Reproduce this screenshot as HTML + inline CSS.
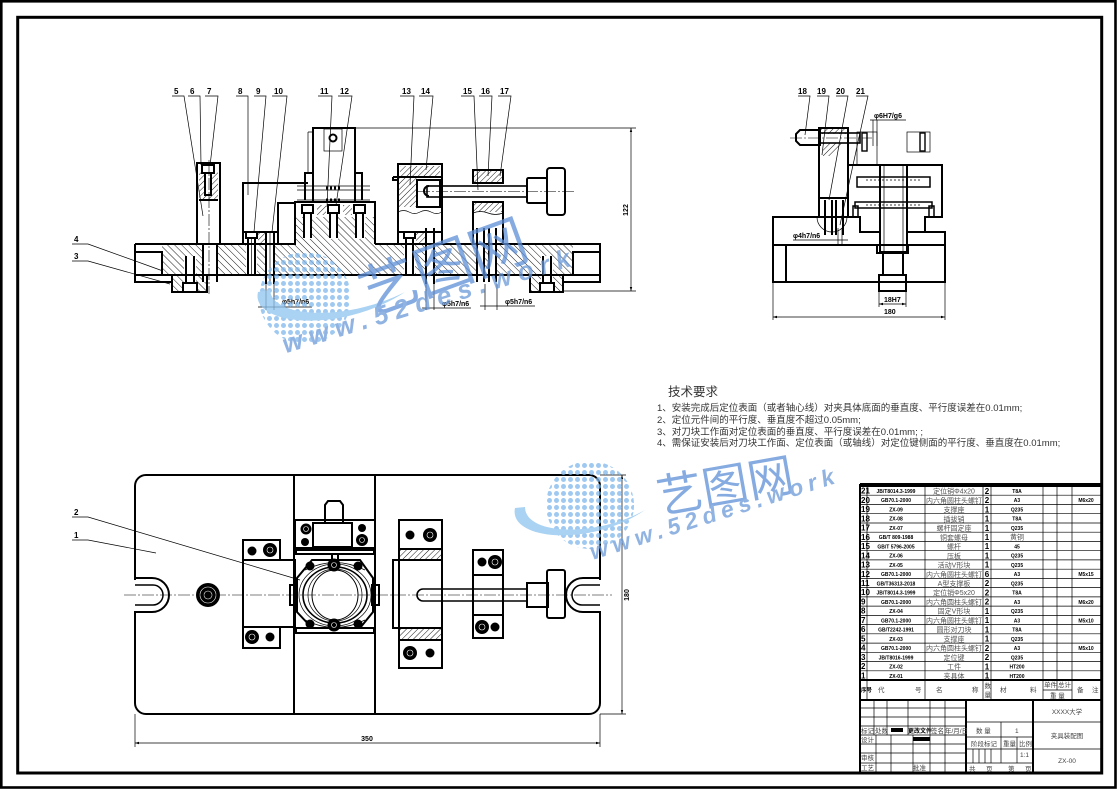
<!DOCTYPE html>
<html><head><meta charset="utf-8"><style>
html,body{margin:0;padding:0;background:#fff;}
svg{display:block;}
.k{fill:none;stroke:#000;stroke-width:2;}
.m{fill:none;stroke:#000;stroke-width:1.3;}
.t{fill:none;stroke:#000;stroke-width:0.7;}
.cl{fill:none;stroke:#000;stroke-width:0.6;stroke-dasharray:12 2 2 2;}
text{font-family:"Liberation Sans","Noto Sans CJK SC",sans-serif;}
.lb{font-size:8px;font-weight:bold;}
.dm{font-size:7px;font-weight:bold;}
.sn{font-size:8px;font-weight:bold;}
.cd{font-size:5px;font-weight:bold;text-anchor:middle;}
.nm{font-size:7px;fill:#555;text-anchor:middle;}
.qt{font-size:8px;font-weight:bold;text-anchor:middle;}
.tb{font-size:6.5px;fill:#444;}
.tr{font-size:9.5px;fill:#333;}
</style></head><body>
<svg width="1117" height="791" viewBox="0 0 1117 791" xmlns="http://www.w3.org/2000/svg">
<defs>
<pattern id="hA" width="5" height="5" patternUnits="userSpaceOnUse" patternTransform="rotate(-45)"><line x1="0" y1="0" x2="0" y2="5" stroke="#000" stroke-width="0.9"/></pattern>
<pattern id="hB" width="4" height="4" patternUnits="userSpaceOnUse" patternTransform="rotate(45)"><line x1="0" y1="0" x2="0" y2="4" stroke="#000" stroke-width="0.9"/></pattern>
<pattern id="dots" width="7" height="7" patternUnits="userSpaceOnUse"><circle cx="3.5" cy="3.5" r="2.5" fill="#7fb8ec"/></pattern>
<marker id="ar" viewBox="0 0 10 10" refX="10" refY="5" markerWidth="6" markerHeight="6" orient="auto-start-reverse"><path d="M0,2 L10,5 L0,8 Z" fill="#000"/></marker>
</defs>

<!-- FRAME -->
<rect x="1.3" y="1.3" width="1114.2" height="786.2" fill="none" stroke="#000" stroke-width="2.6"/>
<rect x="17.7" y="17.3" width="1084" height="755.7" fill="none" stroke="#000" stroke-width="3"/>

<!-- ============ FRONT VIEW ============ -->
<rect x="162" y="244" width="411" height="31" fill="url(#hA)"/>
<rect x="295" y="217" width="80" height="27" fill="url(#hA)"/>
<rect x="172" y="275" width="35" height="17" fill="url(#hA)"/>
<rect x="530" y="275" width="33" height="17" fill="url(#hA)"/>
<g fill="#fff">
<rect x="203" y="244" width="14" height="38"/>
<rect x="184" y="256" width="12" height="36"/>
<rect x="246" y="232" width="11" height="45"/>
<rect x="265" y="232" width="10" height="52"/>
<rect x="278" y="203" width="17" height="41"/>
<rect x="303" y="215" width="9" height="24"/>
<rect x="329" y="215" width="9" height="24"/>
<rect x="356" y="215" width="9" height="24"/>
<rect x="404" y="232" width="11" height="45"/>
<rect x="425" y="228" width="10" height="56"/>
<rect x="476" y="228" width="9" height="56"/>
<rect x="488" y="228" width="9" height="56"/>
<rect x="541" y="256" width="12" height="36"/>
</g>
<g class="k">
<path d="M135,244 H295"/>
<path d="M375,244 H600 V275 H135 V244"/>
<path d="M135,252 H162 V275 M600,252 H573 V275"/>
<path d="M135,275 V282 H172 M600,275 V282 H563"/>
<rect x="172" y="275" width="35" height="17"/>
<rect x="530" y="275" width="33" height="17"/>
<rect x="183" y="283" width="14" height="9"/>
<path d="M186,256 V283 M194,256 V283"/>
<rect x="540" y="283" width="14" height="9"/>
<path d="M543,256 V283 M551,256 V283"/>
</g>
<!-- column 5 -->
<rect x="199" y="172" width="19" height="28" fill="url(#hB)"/>
<rect x="205" y="173" width="6" height="22" fill="#fff"/>
<g class="k">
<rect x="197" y="163" width="23" height="81"/>
<rect x="202" y="165" width="12" height="8"/>
<path d="M205,173 V195 H211 V173 M203,244 V282 M217,244 V282 M199,200 H218"/>
</g>
<line x1="209" y1="160" x2="209" y2="294" class="cl"/>
<!-- block 8 / 9 / 10 -->
<rect x="258" y="232" width="7" height="12" fill="url(#hB)"/>
<g class="k">
<path d="M308,183 H243 V232 H278"/>
<rect x="278" y="203" width="17" height="41"/>
<rect x="246" y="232" width="11" height="6"/>
<path d="M248,238 V275 M255,238 V275 M243,232 V244"/>
<path d="M266,232 V284 M274,232 V284"/>
</g>
<path d="M270,232 V284 M251.5,238 V275" class="t"/>
<!-- central body -->
<rect x="295" y="202" width="80" height="15" fill="#fff"/>
<rect x="317" y="205" width="9" height="10" fill="url(#hB)"/>
<rect x="343" y="205" width="9" height="10" fill="url(#hB)"/>
<g class="k">
<path d="M295,244 V202 H375 V244"/>
<rect x="302" y="205" width="11" height="8"/>
<rect x="328" y="205" width="11" height="8"/>
<rect x="354" y="205" width="11" height="8"/>
<path d="M304,213 V238 M311,213 V238 M330,213 V238 M337,213 V238 M356,213 V238 M363,213 V238"/>
</g>
<!-- part 11 -->
<g class="k">
<path d="M313,202 V173 H305 V200 M355,202 V173 H362 V200 M313,173 V128 H355 V173"/>
<circle cx="333" cy="138" r="3.5"/>
</g>
<g class="t">
<path d="M297,186 H370 M297,190 H370 M297,200 H370"/>
<rect x="324" y="129" width="18" height="22"/>
<path d="M308,132 H313 M308,132 V173"/>
<path d="M355,128 H636"/>
</g>
<path d="M326,188 H342" stroke="#000" stroke-width="3" stroke-dasharray="2 2"/>
<path d="M326,200 H342" stroke="#000" stroke-width="3" stroke-dasharray="2 2"/>
<!-- part 13/14 -->
<rect x="400" y="166" width="40" height="11" fill="url(#hB)"/>
<path d="M398,177 H417 V207 H398 Z" fill="url(#hB)"/>
<rect x="416" y="232" width="9" height="12" fill="url(#hB)"/>
<g class="k">
<rect x="398" y="164" width="44" height="80"/>
<path d="M393,177 H442 M393,177 V180 H398 M398,232 H442"/>
<rect x="417" y="180" width="23" height="27"/>
<path d="M429,186 A5,5 0 0 0 429,196"/>
<rect x="404" y="232" width="11" height="6"/>
<path d="M406,238 V275 M413,238 V275 M426,228 V284 M434,228 V284"/>
</g>
<path d="M398,212 q5.5,-3 11,0 t11,0 t11,0 t11,0" class="t"/>
<!-- rod, 16, 17, knob -->
<rect x="473" y="170" width="30" height="13" fill="url(#hB)"/>
<rect x="474" y="203" width="28" height="9" fill="url(#hB)"/>
<g class="k">
<rect x="427" y="186" width="100" height="11" stroke-width="1.6"/>
<rect x="473" y="170" width="30" height="13"/>
<rect x="473" y="202" width="30" height="42"/>
<path d="M477,228 V282 M484,228 V282 M489,228 V282 M496,228 V282"/>
<rect x="527" y="178" width="20" height="25" rx="1.5"/>
<rect x="547" y="168" width="18" height="47" rx="3"/>
</g>
<path d="M473,213 q7.5,-3 15,0 t15,0" class="t"/>
<line x1="418" y1="191.5" x2="576" y2="191.5" class="cl"/>
<!-- dims front -->
<g class="t">
<path d="M563,291 H636"/>
<line x1="631" y1="128" x2="631" y2="291" marker-start="url(#ar)" marker-end="url(#ar)"/>
<path d="M266,284 V310 M274,284 V310 M258,307 H312"/>
<path d="M426,284 V310 M434,284 V310 M422,308 H471"/>
<path d="M485,284 V310 M497,284 V310 M480,306 H535"/>
</g>
<text x="628" y="210" class="dm" transform="rotate(-90 628 210)" text-anchor="middle">122</text>
<text x="282" y="304" class="dm">φ5h7/n6</text>
<text x="442" y="306" class="dm">φ5h7/n6</text>
<text x="505" y="304" class="dm">φ5h7/n6</text>
<!-- labels front -->
<g class="lb">
<text x="174" y="94">5</text><text x="190" y="94">6</text><text x="207" y="94">7</text>
<text x="238" y="94">8</text><text x="256" y="94">9</text><text x="274" y="94">10</text>
<text x="320" y="94">11</text><text x="340" y="94">12</text>
<text x="402" y="94">13</text><text x="421" y="94">14</text>
<text x="463" y="94">15</text><text x="481" y="94">16</text><text x="500" y="94">17</text>
<text x="74" y="242">4</text><text x="74" y="259">3</text>
</g>
<g class="t">
<path d="M172,96 H184 L203,216 M188,96 H200 L201,165 M205,96 H218 L210,166"/>
<path d="M236,96 H248 L248,195 M254,96 H266 L254,232 M272,96 H287 L272,232"/>
<path d="M318,96 H332 L327,207 M338,96 H352 L336,205"/>
<path d="M400,96 H414 L410,185 M419,96 H433 L426,170"/>
<path d="M461,96 H474 L478,190 M479,96 H492 L488,176 M498,96 H511 L500,176"/>
<path d="M72,244 H88 L163,271 M72,261 H88 L170,284"/>
</g>

<!-- ============ SIDE VIEW ============ -->
<rect x="821" y="129" width="25" height="5" fill="url(#hB)"/>
<path d="M823,143 H843 Q838,152 830,156 H823 Z" fill="url(#hB)"/>
<g class="k">
<rect x="773" y="245" width="172" height="37"/>
<path d="M786,245 V282"/>
<path d="M773,245 V217 H860 V232 H880 M907,232 H925 V217 H942 V165 H848 V217 M925,232 H945 V245"/>
<rect x="880" y="165" width="27" height="87"/>
<rect x="877" y="245" width="31" height="8"/>
<rect x="883" y="253" width="20" height="22"/>
<rect x="879" y="275" width="27" height="16"/>
<rect x="857" y="177" width="73" height="10" stroke-width="1.5"/>
<rect x="855" y="202" width="77" height="6" stroke-width="1.5"/>
<rect x="853" y="206" width="5" height="11" stroke-width="1.5"/>
<rect x="929" y="206" width="5" height="11" stroke-width="1.5"/>
<rect x="819" y="128" width="29" height="89"/>
<path d="M819,198 H848"/>
<path d="M825,200 V235 M832,200 V235 M836,200 V235 M843,200 V235"/>
<path d="M800,130 H820 V145 H800 L796,141 V134 Z"/>
<rect x="820" y="133" width="40" height="10" stroke-width="1.6"/>
<rect x="862" y="133" width="5" height="18" stroke-width="1.4"/>
<rect x="920" y="133" width="5" height="18" stroke-width="1.4"/>
</g>
<g class="t">
<path d="M884,165 V252 M903,165 V252"/>
<rect x="857" y="132" width="20" height="33"/>
<rect x="907" y="132" width="23" height="20"/>
<path d="M817,217 A15,15 0 0 0 847,217"/>
<path d="M866,180 H920 M866,205 H920" stroke-dasharray="2 2"/>
<path d="M870,120 H906 M873,120 V146 M877,120 V146"/>
<path d="M793,240 H848 M838,228 V246 M842,228 V246"/>
<path d="M879,291 V307 M906,291 V307 M773,282 V320 M945,282 V320"/>
<line x1="879" y1="304" x2="906" y2="304" marker-start="url(#ar)" marker-end="url(#ar)"/>
<line x1="773" y1="317" x2="945" y2="317" marker-start="url(#ar)" marker-end="url(#ar)"/>
<path d="M798,96 H810 L805,135 M817,96 H829 L822,155 M836,96 H848 L829,200 M856,96 H868 L840,225"/>
</g>
<line x1="790" y1="138" x2="872" y2="138" class="cl"/>
<g class="lb"><text x="798" y="94">18</text><text x="817" y="94">19</text><text x="836" y="94">20</text><text x="856" y="94">21</text></g>
<text x="874" y="118" class="dm">φ6H7/g6</text>
<text x="793" y="238" class="dm">φ4h7/n6</text>
<text x="884" y="302" class="dm">18H7</text>
<text x="884" y="314" class="dm">180</text>

<!-- ============ TECH REQUIREMENTS ============ -->
<text x="668" y="396" font-size="12.5" fill="#333">技术要求</text>
<text x="657" y="411" class="tr">1、安装完成后定位表面（或者轴心线）对夹具体底面的垂直度、平行度误差在0.01mm;</text>
<text x="657" y="423" class="tr">2、定位元件间的平行度、垂直度不超过0.05mm;</text>
<text x="657" y="435" class="tr">3、对刀块工作面对定位表面的垂直度、平行度误差在0.01mm; ;</text>
<text x="657" y="446" class="tr">4、需保证安装后对刀块工作面、定位表面（或轴线）对定位键侧面的平行度、垂直度在0.01mm;</text>

<!-- ============ PLAN VIEW ============ -->
<rect x="135" y="475" width="465" height="239" rx="11" class="k"/>
<rect x="132" y="580" width="6" height="31" fill="#fff"/>
<rect x="597" y="580" width="6" height="31" fill="#fff"/>
<g class="k">
<path d="M135,578 H152 A17,17 0 0 1 152,612 H135"/>
<path d="M135,585 H153 A10,10 0 0 1 153,605 H135" stroke-width="1.5"/>
<path d="M600,578 H583 A17,17 0 0 0 583,612 H600"/>
<path d="M600,585 H582 A10,10 0 0 0 582,605 H600" stroke-width="1.5"/>
<path d="M294,475 V714 M375,475 V714"/>
<rect x="295" y="520" width="80" height="30"/>
<rect x="313" y="523" width="39" height="24"/>
<path d="M325,522 V505 L328,501 H340 L343,505 V522"/>
<rect x="296" y="548" width="78" height="6"/>
<rect x="332" y="554" width="6" height="6"/>
<rect x="296" y="628" width="78" height="5"/>
<rect x="243" y="540" width="37" height="20"/>
<rect x="243" y="560" width="52" height="67"/>
<rect x="243" y="627" width="37" height="21"/>
<path d="M312,560 H360 L373,578 V612 L360,628 H312 L297,612 V578 Z" fill="#fff"/>
<ellipse cx="335" cy="595" rx="32" ry="28" stroke-width="1.6"/>
<rect x="290" y="585" width="7" height="20"/>
<rect x="372" y="585" width="7" height="20"/>
<rect x="399" y="520" width="43" height="148"/>
<rect x="393" y="560" width="49" height="68"/>
<path d="M399,549 H442 M399,640 H442"/>
<path d="M527,589 H423 A6,6 0 0 0 423,601 H527" stroke-width="1.6"/>
<rect x="473" y="550" width="30" height="88"/>
<path d="M473,575 H503 M473,615 H503"/>
<rect x="527" y="583" width="21" height="24"/>
<rect x="547" y="570" width="18" height="48" rx="2"/>
</g>
<rect x="400" y="550" width="41" height="9" fill="url(#hB)"/>
<rect x="400" y="629" width="41" height="10" fill="url(#hB)"/>
<g class="t">
<ellipse cx="335" cy="595" rx="36" ry="31"/>
<ellipse cx="335" cy="595" rx="23" ry="25" stroke-width="1"/>
<ellipse cx="335" cy="595" rx="27" ry="26"/>
<path d="M305,570 Q335,555 365,570 M305,620 Q335,635 365,620"/>
</g>
<g fill="#000">
<circle cx="306" cy="529" r="5.5"/><circle cx="305" cy="542" r="4"/>
<circle cx="362" cy="528" r="4"/><circle cx="362" cy="540" r="6"/>
<circle cx="252" cy="551" r="4.5"/><circle cx="270" cy="550" r="7"/>
<circle cx="252" cy="637" r="7"/><circle cx="270" cy="637" r="4.5"/>
<circle cx="334" cy="565" r="6.5"/><circle cx="334" cy="625" r="6.5"/>
<circle cx="310" cy="566" r="4.5"/><circle cx="358" cy="566" r="4.5"/>
<circle cx="310" cy="624" r="4.5"/><circle cx="358" cy="624" r="4.5"/>
<circle cx="410" cy="535" r="4.5"/><circle cx="430" cy="535" r="7"/>
<circle cx="410" cy="653" r="7"/><circle cx="430" cy="653" r="4.5"/>
<circle cx="482" cy="562" r="4.5"/><circle cx="495" cy="562" r="7"/>
<circle cx="482" cy="627" r="7"/><circle cx="495" cy="627" r="4.5"/>
<circle cx="208" cy="595" r="12"/>
</g>
<g fill="none" stroke="#fff" stroke-width="0.6">
<circle cx="208" cy="595" r="8"/><circle cx="208" cy="595" r="4"/>
<circle cx="270" cy="550" r="3"/><circle cx="252" cy="637" r="3"/><circle cx="430" cy="535" r="3"/><circle cx="410" cy="653" r="3"/>
<circle cx="495" cy="562" r="3"/><circle cx="482" cy="627" r="3"/><circle cx="306" cy="529" r="2.5"/><circle cx="362" cy="540" r="2.5"/>
<circle cx="334" cy="565" r="2.5"/><circle cx="334" cy="625" r="2.5"/>
</g>
<line x1="124" y1="595" x2="612" y2="595" class="cl"/>
<g class="t">
<path d="M135,714 V747 M600,714 V747 M600,475 H626 M600,714 H626"/>
<line x1="135" y1="743" x2="600" y2="743" marker-start="url(#ar)" marker-end="url(#ar)"/>
<line x1="622" y1="475" x2="622" y2="714" marker-start="url(#ar)" marker-end="url(#ar)"/>
<path d="M72,517 H88 L300,580 M72,540 H88 L156,553"/>
</g>
<text x="367" y="741" class="dm" text-anchor="middle">350</text>
<text x="629" y="595" class="dm" text-anchor="middle" transform="rotate(-90 629 595)">180</text>
<g class="lb"><text x="74" y="515">2</text><text x="74" y="538">1</text></g>

<!-- ============ BOM TABLE ============ -->
<g class="t" stroke-width="0.8">
<path d="M860,495.2 H1101 M860,504.5 H1101 M860,513.7 H1101 M860,523 H1101 M860,532.2 H1101 M860,541.4 H1101 M860,550.7 H1101 M860,559.9 H1101 M860,569.2 H1101 M860,578.4 H1101 M860,587.6 H1101 M860,596.9 H1101 M860,606.1 H1101 M860,615.4 H1101 M860,624.6 H1101 M860,633.8 H1101 M860,643.1 H1101 M860,652.3 H1101 M860,661.6 H1101 M860,670.8 H1101"/>
<path d="M867,484 V700 M925,484 V700 M983,484 V700 M991,484 V700 M1043,484 V700 M1057,484 V690 M1072,484 V700 M1043,690 H1072"/>
</g>
<g class="k">
<path d="M860,484 H1101 M860,484 V773 M860,486 H1101 M860,680 H1101 M860,700 H1101"/>
</g>
<g>
<g transform="translate(0,486)"><text x="861" y="7.6" class="sn">21</text><text x="896" y="7" class="cd">JB/T8014.3-1999</text><text x="954" y="7.6" class="nm">定位销Φ4x20</text><text x="987" y="7.8" class="qt">2</text><text x="1017" y="7" class="cd">T8A</text></g>
<g transform="translate(0,495.2)"><text x="861" y="7.6" class="sn">20</text><text x="896" y="7" class="cd">GB70.1-2000</text><text x="954" y="7.6" class="nm">内六角圆柱头螺钉</text><text x="987" y="7.8" class="qt">2</text><text x="1017" y="7" class="cd">A3</text><text x="1086" y="7" class="cd">M6x20</text></g>
<g transform="translate(0,504.5)"><text x="861" y="7.6" class="sn">19</text><text x="896" y="7" class="cd">ZX-09</text><text x="954" y="7.6" class="nm">支撑座</text><text x="987" y="7.8" class="qt">1</text><text x="1017" y="7" class="cd">Q235</text></g>
<g transform="translate(0,513.7)"><text x="861" y="7.6" class="sn">18</text><text x="896" y="7" class="cd">ZX-08</text><text x="954" y="7.6" class="nm">插拔销</text><text x="987" y="7.8" class="qt">1</text><text x="1017" y="7" class="cd">T8A</text></g>
<g transform="translate(0,523)"><text x="861" y="7.6" class="sn">17</text><text x="896" y="7" class="cd">ZX-07</text><text x="954" y="7.6" class="nm">螺杆固定座</text><text x="987" y="7.8" class="qt">1</text><text x="1017" y="7" class="cd">Q235</text></g>
<g transform="translate(0,532.2)"><text x="861" y="7.6" class="sn">16</text><text x="896" y="7" class="cd">GB/T 809-1988</text><text x="954" y="7.6" class="nm">铜套螺母</text><text x="987" y="7.8" class="qt">1</text><text x="1017" y="7.4" class="nm">黄铜</text></g>
<g transform="translate(0,541.4)"><text x="861" y="7.6" class="sn">15</text><text x="896" y="7" class="cd">GB/T 5796-2005</text><text x="954" y="7.6" class="nm">螺杆</text><text x="987" y="7.8" class="qt">1</text><text x="1017" y="7" class="cd">45</text></g>
<g transform="translate(0,550.7)"><text x="861" y="7.6" class="sn">14</text><text x="896" y="7" class="cd">ZX-06</text><text x="954" y="7.6" class="nm">压板</text><text x="987" y="7.8" class="qt">1</text><text x="1017" y="7" class="cd">Q235</text></g>
<g transform="translate(0,559.9)"><text x="861" y="7.6" class="sn">13</text><text x="896" y="7" class="cd">ZX-05</text><text x="954" y="7.6" class="nm">活动V形块</text><text x="987" y="7.8" class="qt">1</text><text x="1017" y="7" class="cd">Q235</text></g>
<g transform="translate(0,569.2)"><text x="861" y="7.6" class="sn">12</text><text x="896" y="7" class="cd">GB70.1-2000</text><text x="954" y="7.6" class="nm">内六角圆柱头螺钉</text><text x="987" y="7.8" class="qt">6</text><text x="1017" y="7" class="cd">A3</text><text x="1086" y="7" class="cd">M5x15</text></g>
<g transform="translate(0,578.4)"><text x="861" y="7.6" class="sn">11</text><text x="896" y="7" class="cd">GB/T36313-2018</text><text x="954" y="7.6" class="nm">A型支撑板</text><text x="987" y="7.8" class="qt">2</text><text x="1017" y="7" class="cd">Q235</text></g>
<g transform="translate(0,587.6)"><text x="861" y="7.6" class="sn">10</text><text x="896" y="7" class="cd">JB/T8014.3-1999</text><text x="954" y="7.6" class="nm">定位销Φ5x20</text><text x="987" y="7.8" class="qt">2</text><text x="1017" y="7" class="cd">T8A</text></g>
<g transform="translate(0,596.9)"><text x="861" y="7.6" class="sn">9</text><text x="896" y="7" class="cd">GB70.1-2000</text><text x="954" y="7.6" class="nm">内六角圆柱头螺钉</text><text x="987" y="7.8" class="qt">2</text><text x="1017" y="7" class="cd">A3</text><text x="1086" y="7" class="cd">M6x20</text></g>
<g transform="translate(0,606.1)"><text x="861" y="7.6" class="sn">8</text><text x="896" y="7" class="cd">ZX-04</text><text x="954" y="7.6" class="nm">固定V形块</text><text x="987" y="7.8" class="qt">1</text><text x="1017" y="7" class="cd">Q235</text></g>
<g transform="translate(0,615.4)"><text x="861" y="7.6" class="sn">7</text><text x="896" y="7" class="cd">GB70.1-2000</text><text x="954" y="7.6" class="nm">内六角圆柱头螺钉</text><text x="987" y="7.8" class="qt">1</text><text x="1017" y="7" class="cd">A3</text><text x="1086" y="7" class="cd">M5x10</text></g>
<g transform="translate(0,624.6)"><text x="861" y="7.6" class="sn">6</text><text x="896" y="7" class="cd">GB/T2242-1991</text><text x="954" y="7.6" class="nm">圆形对刀块</text><text x="987" y="7.8" class="qt">1</text><text x="1017" y="7" class="cd">T8A</text></g>
<g transform="translate(0,633.8)"><text x="861" y="7.6" class="sn">5</text><text x="896" y="7" class="cd">ZX-03</text><text x="954" y="7.6" class="nm">支撑座</text><text x="987" y="7.8" class="qt">1</text><text x="1017" y="7" class="cd">Q235</text></g>
<g transform="translate(0,643.1)"><text x="861" y="7.6" class="sn">4</text><text x="896" y="7" class="cd">GB70.1-2000</text><text x="954" y="7.6" class="nm">内六角圆柱头螺钉</text><text x="987" y="7.8" class="qt">2</text><text x="1017" y="7" class="cd">A3</text><text x="1086" y="7" class="cd">M5x10</text></g>
<g transform="translate(0,652.3)"><text x="861" y="7.6" class="sn">3</text><text x="896" y="7" class="cd">JB/T8016-1999</text><text x="954" y="7.6" class="nm">定位键</text><text x="987" y="7.8" class="qt">2</text><text x="1017" y="7" class="cd">Q235</text></g>
<g transform="translate(0,661.6)"><text x="861" y="7.6" class="sn">2</text><text x="896" y="7" class="cd">ZX-02</text><text x="954" y="7.6" class="nm">工件</text><text x="987" y="7.8" class="qt">1</text><text x="1017" y="7" class="cd">HT200</text></g>
<g transform="translate(0,670.8)"><text x="861" y="7.6" class="sn">1</text><text x="896" y="7" class="cd">ZX-01</text><text x="954" y="7.6" class="nm">夹具体</text><text x="987" y="7.8" class="qt">1</text><text x="1017" y="7" class="cd">HT200</text></g>
</g>
<!-- header -->
<text x="861" y="692" font-size="5.5" font-weight="bold">序号</text>
<text x="878" y="692" class="tb">代</text><text x="915" y="692" class="tb">号</text>
<text x="936" y="692" class="tb">名</text><text x="972" y="692" class="tb">称</text>
<text x="984.5" y="688" class="tb" font-size="5.5">数</text><text x="984.5" y="697" class="tb" font-size="5.5">量</text>
<text x="1000" y="692" class="tb">材</text><text x="1030" y="692" class="tb">料</text>
<text x="1044" y="687" class="tb" font-size="5.5">单件</text><text x="1058" y="687" class="tb" font-size="5.5">总计</text>
<text x="1050" y="698" class="tb" font-size="5.5">重 量</text>
<text x="1077" y="692" class="tb">备</text><text x="1092" y="692" class="tb">注</text>

<!-- ============ TITLE BLOCK ============ -->
<g class="t" stroke-width="0.8">
<path d="M860,708 H966 M860,717 H966 M860,726 H966 M860,735 H966 M860,744 H966 M860,753 H966 M860,763 H966"/>
<path d="M874,700 V735 M887,700 V735 M908,700 V735 M876,735 V773 M891,735 V773 M913,735 V773 M930,700 V773 M945,700 V773"/>
<path d="M966,722 H1033 M966,737 H1033 M966,749 H1033 M966,763 H1033"/>
<path d="M1001,722 V763 M1017,737 V763 M973,749 V763 M979,749 V763 M985,749 V763 M991,749 V763"/>
<path d="M1033,722 H1101 M1033,749 H1101"/>
</g>
<g class="k"><path d="M966,700 V773 M1033,700 V773"/></g>
<text x="861" y="733" class="tb" font-size="6">标记</text>
<text x="875" y="733" class="tb" font-size="6">处数</text>
<rect x="891" y="728" width="12" height="4" fill="#000"/>
<text x="908" y="733" font-size="6" font-weight="bold">更改文件</text>
<text x="931" y="733" class="tb" font-size="6">签名</text>
<text x="945" y="733" class="tb" font-size="6">年/月/日</text>
<text x="861" y="742" class="tb" font-size="6">设计</text>
<rect x="913" y="737" width="17" height="4" fill="#000"/>
<text x="861" y="760" class="tb" font-size="6">审核</text>
<text x="861" y="770" class="tb" font-size="6">工艺</text>
<text x="913" y="770" class="tb" font-size="6">批准</text>
<text x="976" y="733" class="tb">数 量</text>
<text x="1015" y="733" class="tb">1</text>
<text x="971" y="746" class="tb" font-size="6">阶段标记</text>
<text x="1003" y="746" class="tb" font-size="6">重量</text>
<text x="1019" y="746" class="tb" font-size="6">比例</text>
<text x="1020" y="757" class="tb" font-size="6">1:1</text>
<text x="969" y="771" class="tb" font-size="6">共</text><text x="986" y="771" class="tb" font-size="6">页</text>
<text x="1008" y="771" class="tb" font-size="6">第</text><text x="1025" y="771" class="tb" font-size="6">页</text>
<text x="1067" y="714" class="tb" text-anchor="middle">XXXX大学</text>
<text x="1067" y="738" class="tb" text-anchor="middle">夹具装配图</text>
<text x="1067" y="763" class="tb" text-anchor="middle">ZX-00</text>

<!-- ============ WATERMARKS ============ -->
<g opacity="0.75">
<circle cx="305" cy="298" r="46" fill="url(#dots)"/>
<path d="M258,292 C250,325 340,335 405,292 C345,322 272,318 270,290 Z" fill="#8ec4f0"/>
<text x="442" y="288" font-size="58" fill="#5d8fd8" text-anchor="middle" transform="rotate(-20 442 263)" font-family="'Noto Sans CJK SC',sans-serif">艺图网</text>
<text x="426" y="310" font-size="26" font-weight="bold" font-style="italic" fill="#6b9ad9" text-anchor="middle" textLength="300" lengthAdjust="spacing" transform="rotate(-17 426 300)">www.52des.work</text>
</g>
<g opacity="0.75">
<circle cx="590" cy="505" r="44" fill="url(#dots)"/>
<path d="M515,508 C508,540 590,548 645,510 C595,538 525,535 525,507 Z" fill="#8ec4f0"/>
<text x="725" y="502" font-size="46" fill="#5d8fd8" text-anchor="middle" transform="rotate(-10 725 485)" font-family="'Noto Sans CJK SC',sans-serif">艺图网</text>
<text x="712" y="522" font-size="23" font-weight="bold" font-style="italic" fill="#6b9ad9" text-anchor="middle" textLength="255" lengthAdjust="spacing" transform="rotate(-17.5 712 514)">www.52des.work</text>
</g>
</svg>
</body></html>
